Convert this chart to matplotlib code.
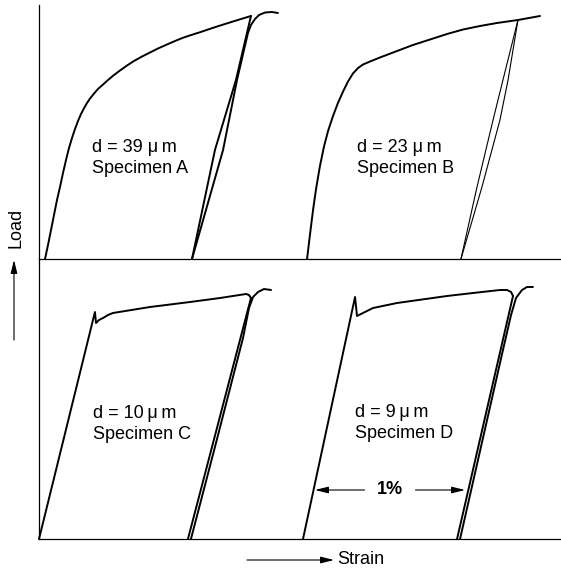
import matplotlib
matplotlib.use("Agg")
import matplotlib.pyplot as plt

plt.rcParams["font.family"] = ["Liberation Sans", "DejaVu Sans"]

W, H = 561, 572
DIM_STRAIN = 1.0  # the "1%" reference bar

# strain in %, load in arbitrary units (top panel: specimens A and B)
a_load_x = [0.04, 0.06, 0.08, 0.1, 0.12, 0.14, 0.16, 0.18, 0.2, 0.22, 0.24, 0.26, 0.28,
            0.3, 0.32, 0.34, 0.367, 0.393, 0.427, 0.46, 0.5, 0.54, 0.587, 0.633, 0.687,
            0.74, 0.793, 0.853, 0.907, 0.96, 1.02, 1.073, 1.127, 1.187, 1.24, 1.293,
            1.353, 1.413]
a_load_y = [0.0, 0.56, 1.16, 1.76, 2.36, 2.88, 3.44, 3.96, 4.44, 4.84, 5.2, 5.52, 5.8,
            6.03, 6.24, 6.42, 6.62, 6.8, 6.98, 7.16, 7.36, 7.54, 7.74, 7.92, 8.1,
            8.26, 8.42, 8.58, 8.72, 8.85, 8.97, 9.07, 9.18, 9.3, 9.4, 9.5,
            9.61, 9.72]
a_unload_x = [1.413, 1.313, 1.173, 1.02]
a_unload_y = [9.72, 7.16, 4.36, 0.0]
a_reload_x = [1.02, 1.227, 1.32, 1.393, 1.413, 1.44, 1.467, 1.507, 1.553, 1.593]
a_reload_y = [0.0, 4.36, 7.16, 9.04, 9.36, 9.6, 9.76, 9.86, 9.88, 9.84]

b_load_x = [1.787, 1.807, 1.827, 1.847, 1.873, 1.9, 1.927, 1.96, 1.993, 2.027, 2.06,
            2.093, 2.127, 2.16, 2.207, 2.273, 2.387, 2.493, 2.607, 2.72, 2.827, 2.94,
            3.053, 3.193, 3.34]
b_load_y = [0.0, 1.0, 1.96, 2.8, 3.72, 4.5, 5.12, 5.72, 6.24, 6.7, 7.1,
            7.42, 7.64, 7.78, 7.9, 8.06, 8.32, 8.56, 8.78, 9.0, 9.18, 9.32,
            9.44, 9.56, 9.72]
b_unload_x = [3.193, 3.093, 3.027, 2.92, 2.813]
b_unload_y = [9.56, 7.16, 5.56, 2.88, 0.0]
b_reload_x = [2.813, 2.953, 3.073, 3.127, 3.193]
b_reload_y = [0.0, 2.88, 5.56, 7.16, 9.56]

# bottom panel: specimens C and D
c_load_x = [0.0, 0.373, 0.38, 0.4, 0.427, 0.46, 0.493, 0.74, 1.007, 1.207, 1.38, 1.4, 1.413]
c_load_y = [0.0, 9.08, 8.64, 8.76, 8.84, 8.96, 9.04, 9.28, 9.48, 9.64, 9.8, 9.76, 9.64]
c_unload_x = [1.413, 0.993]
c_unload_y = [9.64, 0.0]
c_reload_x = [1.013, 1.173, 1.36, 1.4, 1.427, 1.46, 1.5, 1.547]
c_reload_y = [0.0, 3.68, 8.04, 9.24, 9.68, 9.88, 10.0, 9.96]

d_load_x = [1.76, 2.107, 2.12, 2.16, 2.227, 2.387, 2.72, 2.893, 3.073, 3.12, 3.147, 3.16]
d_load_y = [0.0, 9.68, 8.92, 9.04, 9.24, 9.44, 9.72, 9.84, 9.96, 9.96, 9.88, 9.72]
d_unload_x = [3.16, 2.787]
d_unload_y = [9.72, 0.0]
d_reload_x = [2.807, 3.093, 3.147, 3.18, 3.22, 3.253, 3.293]
d_reload_y = [0.0, 7.56, 8.96, 9.64, 9.96, 10.08, 10.08]

labels_top = ["d = 39 \u03bc\u2009m\nSpecimen A", "d = 23 \u03bc\u2009m\nSpecimen B"]
labels_bot = ["d = 10\u2009\u03bc\u2009m\nSpecimen C", "d = 9\u2009\u03bc\u2009m\nSpecimen D"]


def px(x, y):
    return (x / W, 1 - y / H)


fig = plt.figure(figsize=(W / 100, H / 100), dpi=100)
ax_top = fig.add_axes([39 / W, 1 - 259 / H, 1 - 39 / W, 254 / H])
ax_bot = fig.add_axes([39 / W, 1 - 539 / H, 1 - 39 / W, 280 / H])

for ax, ytop in ((ax_top, 254 / 25), (ax_bot, 280 / 25)):
    ax.set_xlim(0, 522 / 150)
    ax.set_ylim(0, ytop)
    ax.set_xticks([])
    ax.set_yticks([])
    for side in ("top", "right"):
        ax.spines[side].set_visible(False)
    for side in ("left", "bottom"):
        ax.spines[side].set_linewidth(0.9)
    ax.patch.set_alpha(0)

kw = dict(color="black", lw=1.4, solid_capstyle="round", solid_joinstyle="round", clip_on=False)
thin = dict(kw, lw=0.8)

ax_top.plot(a_load_x, a_load_y, **kw)
ax_top.plot(a_unload_x, a_unload_y, **kw)
ax_top.plot(a_reload_x, a_reload_y, **kw)
ax_top.plot(b_load_x, b_load_y, **kw)
ax_top.plot(b_unload_x, b_unload_y, **thin)
ax_top.plot(b_reload_x, b_reload_y, **thin)

ax_bot.plot(c_load_x, c_load_y, **kw)
ax_bot.plot(c_unload_x, c_unload_y, **kw)
ax_bot.plot(c_reload_x, c_reload_y, **kw)
ax_bot.plot(d_load_x, d_load_y, **kw)
ax_bot.plot(d_unload_x, d_unload_y, **kw)
ax_bot.plot(d_reload_x, d_reload_y, **kw)

fs = 13
txt = dict(fontsize=fs, ha="left", va="center", linespacing=1.25)
fig.text(*px(92, 158), labels_top[0], **txt)
fig.text(*px(357, 158), labels_top[1], **txt)
fig.text(*px(93, 424), labels_bot[0], **txt)
fig.text(*px(355, 423), labels_bot[1], **txt)

# 1% bar in the bottom panel
y_dim = 49 / 25
x0 = 276 / 150
x1 = x0 + DIM_STRAIN
xm = (x0 + x1) / 2
head = dict(arrowstyle="-|>,head_length=0.8,head_width=0.2", color="black", lw=0.8,
            shrinkA=0, shrinkB=0)
ax_bot.annotate("", xy=(x0, y_dim), xytext=(xm - 0.17, y_dim), arrowprops=head)
ax_bot.annotate("", xy=(x1, y_dim), xytext=(xm + 0.17, y_dim), arrowprops=head)
ax_bot.text(xm, y_dim, "1%", fontsize=fs, fontweight="bold", ha="center", va="center")

# axis captions with arrows
fig.text(*px(16, 228), "Load", fontsize=fs, rotation=90, ha="center", va="center")
ax_top.annotate("", xy=px(14, 260), xytext=px(14, 340), xycoords="figure fraction",
                textcoords="figure fraction", arrowprops=head, annotation_clip=False)
fig.text(*px(337, 560), "Strain", fontsize=fs, ha="left", va="center")
ax_bot.annotate("", xy=px(334, 560), xytext=px(247, 560), xycoords="figure fraction",
                textcoords="figure fraction", arrowprops=head, annotation_clip=False)

fig.savefig("out.png", dpi=100)
